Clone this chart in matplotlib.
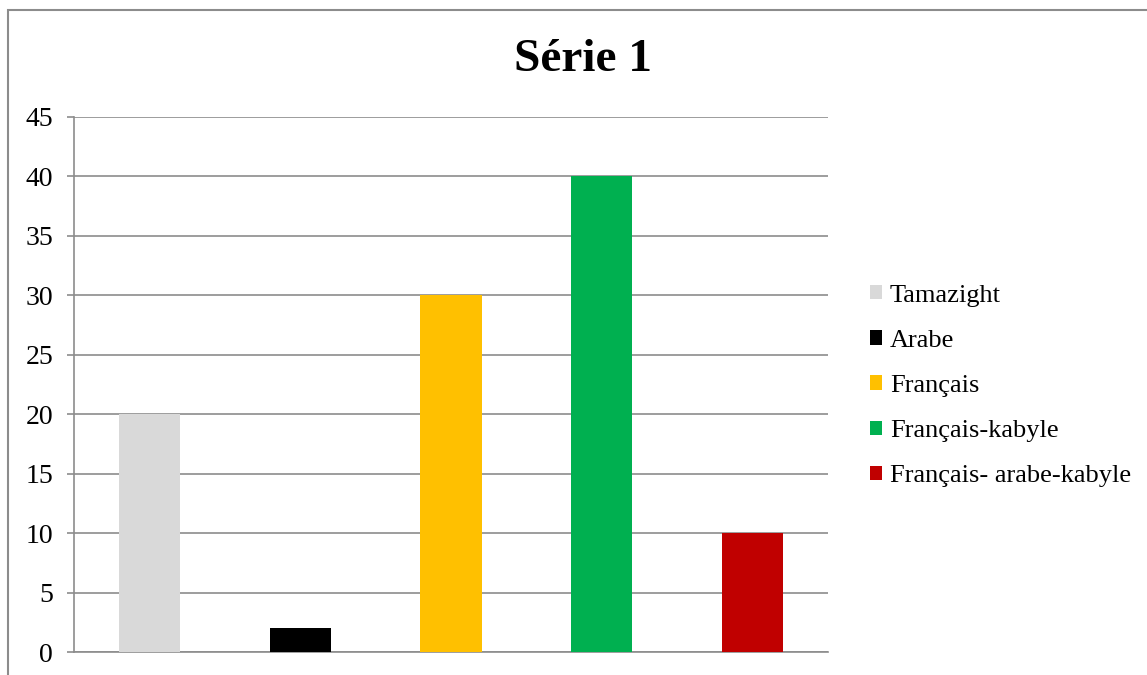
import matplotlib.pyplot as plt
from matplotlib.patches import Rectangle, Patch

categories = ["Tamazight", "Arabe", "Français", "Français-kabyle", "Français- arabe-kabyle"]
values = [20, 2, 30, 40, 10]
colors = ["#D9D9D9", "#000000", "#FFC000", "#00B050", "#C00000"]
yticks = list(range(0, 50, 5))

plt.rcParams["font.family"] = ["Liberation Serif", "DejaVu Serif"]

W, H = 1147, 675
fig = plt.figure(figsize=(W / 100, H / 100), dpi=100)

# outer chart frame (only top and left are visible in the reference)
fig.patches.append(Rectangle((8 / W, -0.1), 1.2, (H - 10) / H + 0.1,
                             transform=fig.transFigure, fill=False,
                             edgecolor="#8c8c8c", linewidth=1.5))

ax = fig.add_axes([74 / W, (H - 652) / H, (828 - 74) / W, (652 - 117) / H])
x = range(len(categories))
ax.bar(x, values, width=0.405, color=colors, zorder=3)
ax.set_xlim(-0.5, len(categories) - 0.5)
ax.set_ylim(0, 45)
ax.set_yticks(yticks)
ax.set_xticks([])
ax.grid(axis="y", color="#8c8c8c", linewidth=1.2, zorder=0)
for s in ["top", "right"]:
    ax.spines[s].set_visible(False)
ax.spines["left"].set_color("#8c8c8c")
ax.spines["bottom"].set_color("#8c8c8c")
ax.spines["left"].set_linewidth(1.2)
ax.spines["bottom"].set_linewidth(1.2)
ax.tick_params(axis="y", length=5, width=1.2, color="#8c8c8c", labelsize=20, pad=10)

fig.text(583 / W, 1 - 60 / H, "Série 1", ha="center", va="center",
         fontsize=34, fontweight="bold")

handles = [Patch(facecolor=c, label=l) for c, l in zip(colors, categories)]
fig.legend(handles=handles, loc="center left", bbox_to_anchor=(870 / W, 1 - 386 / H),
           frameon=False, fontsize=19, handlelength=0.46, handleheight=0.46,
           handletextpad=0.3, labelspacing=0.88, borderpad=0, borderaxespad=0)

fig.savefig("out.png", dpi=100)
